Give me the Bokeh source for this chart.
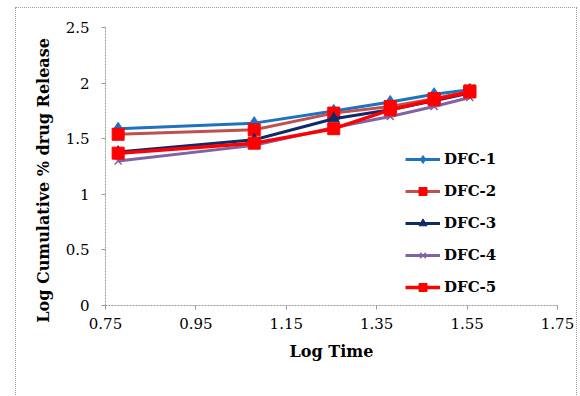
from bokeh.plotting import figure
from bokeh.models import Legend, LegendItem, FixedTicker, Range1d, InlineStyleSheet
from bokeh.embed import file_html
from bokeh.resources import INLINE

# ---- data ----
log_time = [0.778, 1.079, 1.255, 1.380, 1.477, 1.556]
dfc1 = [1.59, 1.64, 1.75, 1.83, 1.90, 1.94]
dfc2 = [1.54, 1.58, 1.73, 1.79, 1.86, 1.93]
dfc3 = [1.38, 1.49, 1.68, 1.76, 1.84, 1.91]
dfc4 = [1.30, 1.44, 1.60, 1.70, 1.79, 1.87]
dfc5 = [1.37, 1.46, 1.59, 1.76, 1.85, 1.92]
series_names = ["DFC-1", "DFC-2", "DFC-3", "DFC-4", "DFC-5"]
x_ticks = [0.75, 0.95, 1.15, 1.35, 1.55, 1.75]
x_tick_labels = ["0.75", "0.95", "1.15", "1.35", "1.55", "1.75"]
y_ticks = [0, 0.5, 1, 1.5, 2, 2.5]
y_tick_labels = ["0", "0.5", "1", "1.5", "2", "2.5"]

FONT = "DejaVu Serif"

p = figure(width=580, height=396, output_backend="svg", toolbar_location=None,
           x_range=Range1d(0.75, 1.75), y_range=Range1d(0, 2.5),
           min_border_left=105, min_border_right=23, min_border_top=27,
           min_border_bottom=91)
p.outline_line_color = None
p.xgrid.grid_line_color = None
p.ygrid.grid_line_color = None

for ax in (p.xaxis[0], p.yaxis[0]):
    ax.axis_line_color = "#9a9a9a"
    ax.axis_line_dash = "2 1"
    ax.major_tick_line_color = "#9a9a9a"
    ax.minor_tick_line_color = None
    ax.major_tick_in = 0
    ax.major_tick_out = 4
    ax.major_label_text_font = FONT
    ax.major_label_text_font_size = "15px"
    ax.major_label_text_color = "black"
    ax.axis_label_text_font = FONT
    ax.axis_label_text_font_style = "bold"
    ax.axis_label_text_font_size = "16px"
    ax.axis_label_text_color = "black"

p.xaxis.ticker = FixedTicker(ticks=x_ticks)
p.xaxis.major_label_overrides = dict(zip(x_ticks, x_tick_labels))
p.yaxis.ticker = FixedTicker(ticks=y_ticks)
p.yaxis.major_label_overrides = dict(zip(y_ticks, y_tick_labels))
p.xaxis.axis_label = "Log Time"
p.yaxis.axis_label = "Log Cumulative % drug Release" + "\u00a0" * 5
p.xaxis.major_label_standoff = 8
p.yaxis.major_label_standoff = 12
p.xaxis.axis_label_standoff = 10
p.yaxis.axis_label_standoff = 10

styles = [
    (dfc1, "#1f72c0", "diamond", "#1f72c0", 13, 3),
    (dfc2, "#c0504d", "square", "#ff0000", 12, 3),
    (dfc3, "#0f2a6b", "triangle", "#0f2a6b", 11, 3),
    (dfc4, "#8064a2", "x", "#8064a2", 10, 3),
    (dfc5, "#ff0000", "square", "#ff0000", 12, 3.5),
]
items = []
for name, (ys, lc, mk, mc, ms, lw) in zip(series_names, styles):
    r1 = p.line(log_time, ys, line_color=lc, line_width=lw)
    if mk == "x":
        r2 = p.scatter(log_time, ys, marker=mk, size=ms, line_color=mc, line_width=1.5)
    else:
        r2 = p.scatter(log_time, ys, marker=mk, size=ms, fill_color=mc, line_color=mc)
    items.append(LegendItem(label=name, renderers=[r1, r2]))

legend = Legend(items=items, location=(300, 8), padding=0, margin=0,
                spacing=12, glyph_width=35, glyph_height=20, label_standoff=4,
                label_text_font=FONT, label_text_font_style="bold",
                label_text_font_size="15px", label_text_color="black",
                border_line_color=None, background_fill_alpha=0)
p.add_layout(legend, "center")

# dotted frame around the chart area
p.stylesheets = [InlineStyleSheet(css="""
:host { position: relative; overflow: hidden; }
:host::after { content: ''; position: absolute; left: 15px; top: 7px;
  width: 562px; height: 400px; border: 1px dotted #9a9a9a;
  pointer-events: none; box-sizing: border-box; z-index: 10; }
""")]

open("out.html", "w").write(file_html(p, INLINE))
